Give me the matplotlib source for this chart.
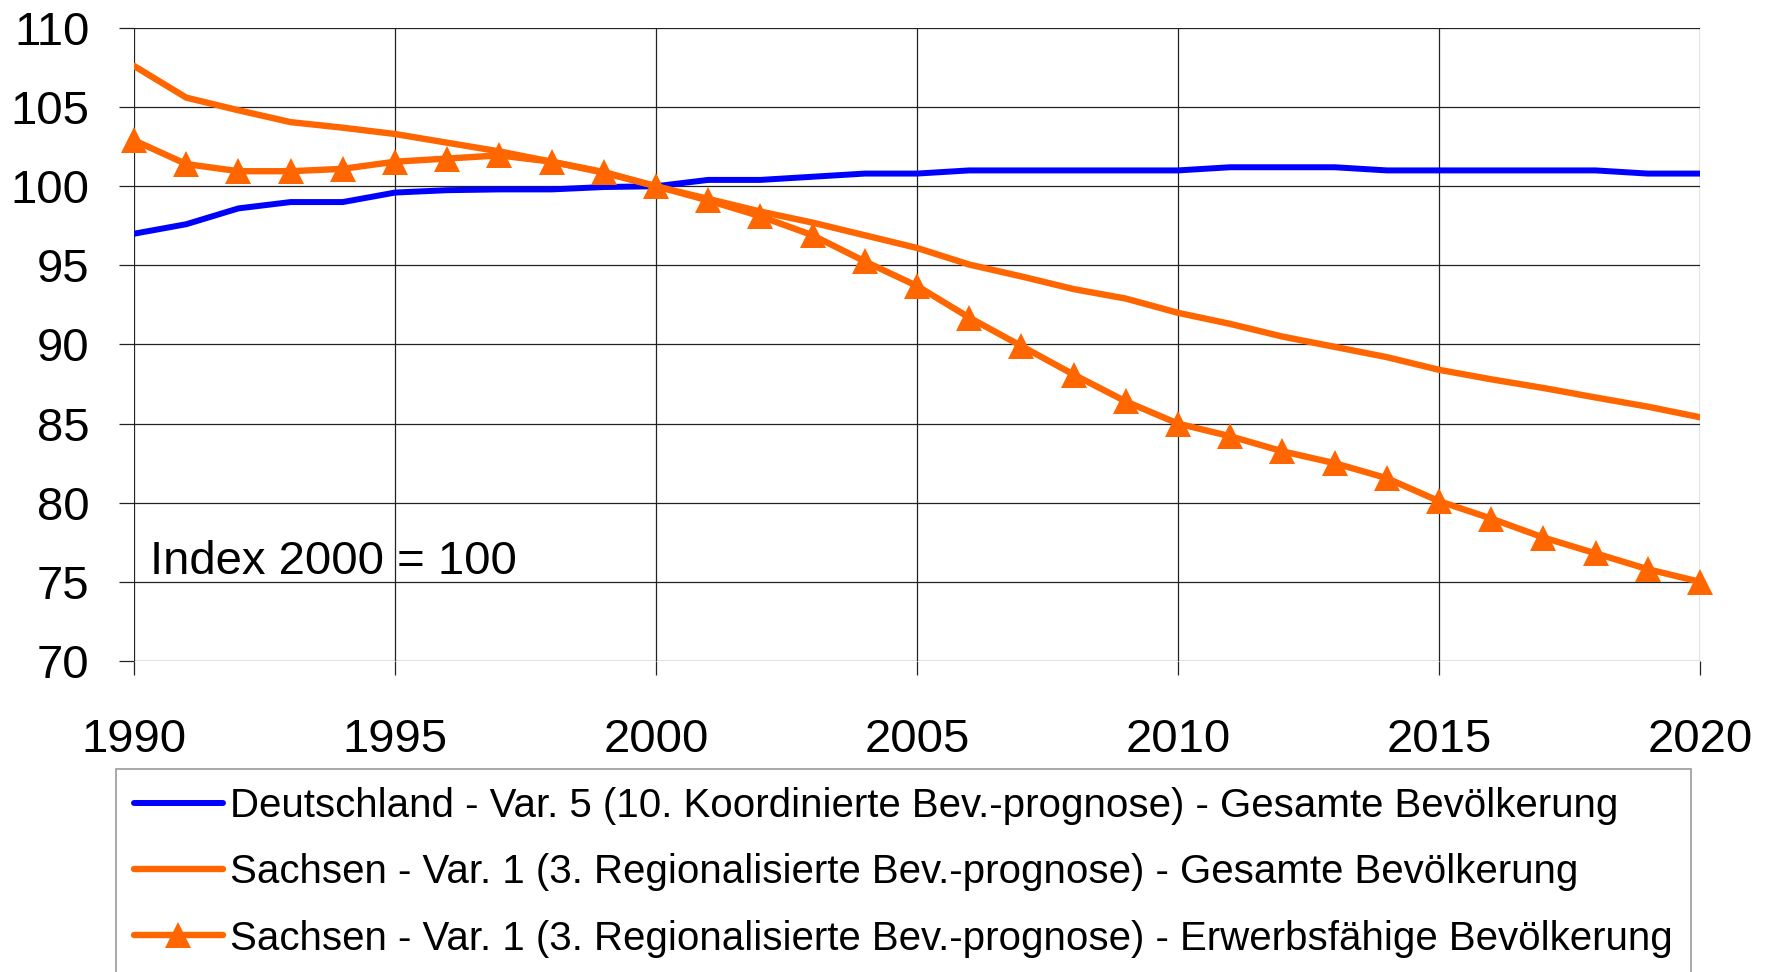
import matplotlib
matplotlib.use("Agg")
import matplotlib.pyplot as plt

years = list(range(1990, 2021))

deutschland = [97.0, 97.6, 98.6, 99.0, 99.0, 99.6, 99.75, 99.8, 99.8, 99.95, 100.0,
               100.4, 100.4, 100.6, 100.8, 100.8, 101.0, 101.0, 101.0, 101.0, 101.0,
               101.2, 101.2, 101.2, 101.0, 101.0, 101.0, 101.0, 101.0, 100.8, 100.8]

sachsen_gesamt = [107.6, 105.6, 104.8, 104.05, 103.7, 103.3, 102.75, 102.2, 101.55, 100.85, 100.0,
                  99.2, 98.4, 97.7, 96.9, 96.1, 95.05, 94.3, 93.5, 92.9, 92.0,
                  91.3, 90.5, 89.85, 89.2, 88.4, 87.8, 87.25, 86.65, 86.07, 85.4]

sachsen_erwerb = [102.9, 101.4, 100.95, 100.95, 101.1, 101.55, 101.75, 101.95, 101.55, 100.9, 100.0,
                  99.1, 98.1, 96.9, 95.25, 93.7, 91.7, 89.9, 88.1, 86.4, 85.0,
                  84.2, 83.25, 82.5, 81.55, 80.1, 79.0, 77.8, 76.8, 75.8, 75.0]

labels = [
    "Deutschland - Var. 5 (10. Koordinierte Bev.-prognose) - Gesamte Bevölkerung",
    "Sachsen - Var. 1 (3. Regionalisierte Bev.-prognose) - Gesamte Bevölkerung",
    "Sachsen - Var. 1 (3. Regionalisierte Bev.-prognose) - Erwerbsfähige Bevölkerung",
]
x_ticks = [1990, 1995, 2000, 2005, 2010, 2015, 2020]
y_ticks = [70, 75, 80, 85, 90, 95, 100, 105, 110]
annotation = "Index 2000 = 100"

plt.rcParams['font.family'] = ['Liberation Sans', 'DejaVu Sans']

fig = plt.figure(figsize=(17.71, 9.72), dpi=100)
ax = fig.add_axes([0.0757, 0.3200, 0.9599 - 0.0757, 0.9712 - 0.3200])

blue = '#0000FF'
orange = '#FF6600'

ax.plot(years, deutschland, color=blue, lw=4.3, solid_capstyle='round', zorder=3, label=labels[0])
ax.plot(years, sachsen_gesamt, color=orange, lw=4.6, solid_capstyle='round', zorder=3, label=labels[1])
ax.plot(years, sachsen_erwerb, color=orange, lw=4.6, marker='^', markersize=19,
        markeredgewidth=0, solid_capstyle='round', zorder=4, label=labels[2], clip_on=False)

ax.set_xlim(1990, 2020)
ax.set_ylim(70, 110)
ax.set_xticks(x_ticks)
ax.set_yticks(y_ticks)
ax.grid(True, color='#222222', lw=0.9)
ax.set_axisbelow(True)
for s in ax.spines.values():
    s.set_visible(False)
ax.tick_params(axis='both', direction='out', color='#222222', width=0.9, labelsize=34)
ax.tick_params(axis='y', length=11, pad=21)
ax.tick_params(axis='x', length=10, pad=31)

ax.text(1990.3, 75.5, annotation, fontsize=34, ha='left', va='baseline')

leg = fig.legend(loc='upper left', bbox_to_anchor=(116 / 1771, 1 - 769 / 972),
                 fontsize=29.0, frameon=True, fancybox=False, edgecolor='#808080',
                 handlelength=2.2, handletextpad=0.18, borderpad=0.45, labelspacing=0.7,
                 borderaxespad=0, markerscale=0.95)
leg.get_frame().set_linewidth(1.2)

fig.savefig('out.png', dpi=100)
